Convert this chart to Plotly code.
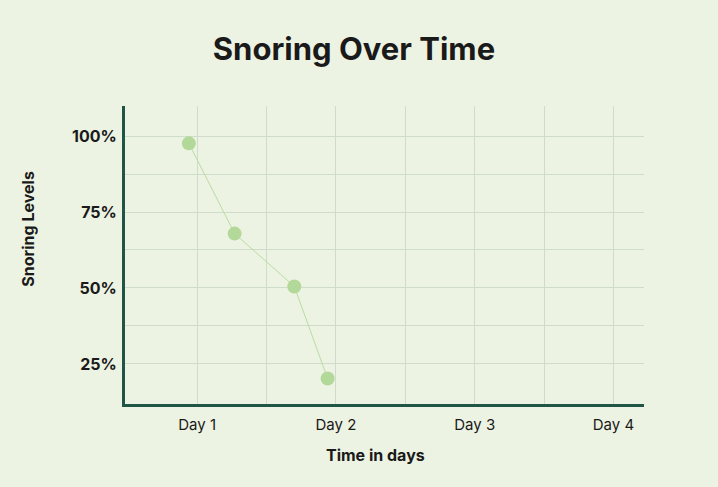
import plotly.graph_objects as go

# データ
days = [0.94, 1.27, 1.70, 1.94]
snoring = [97.6, 67.9, 50.5, 20.2]
x_tickvals = [1, 2, 3, 4]
x_ticktext = ["Day 1", "Day 2", "Day 3", "Day 4"]
y_tickvals = [25, 50, 75, 100]
y_ticktext = ["25%", "50%", "75%", "100%"]

bg = "#edf3e2"
axis_col = "#1f5446"
grid_col = "#d0dccb"
font = "Inter"

fig = go.Figure()

fig.add_trace(go.Scatter(
    x=days,
    y=snoring,
    mode="lines+markers",
    line=dict(color="#b9dca3", width=1),
    marker=dict(color="#b3d99a", size=14),
    showlegend=False,
    hoverinfo="skip",
))

fig.update_layout(
    width=718,
    height=487,
    paper_bgcolor=bg,
    plot_bgcolor=bg,
    margin=dict(l=125, r=74, t=106, b=83),
    font=dict(family=font, color="#1a1a1a"),
    title=dict(
        text="<b>Snoring Over Time</b>",
        x=0.493,
        xanchor="center",
        y=0.9,
        yanchor="middle",
        font=dict(family=font, size=31, color="#1a1a1a"),
    ),
    xaxis=dict(
        range=[0.48, 4.22],
        tickvals=x_tickvals,
        ticktext=x_ticktext,
        tickfont=dict(size=15, color="#1a1a1a"),
        ticklabelstandoff=5,
        showline=True,
        linecolor=axis_col,
        linewidth=3,
        showgrid=True,
        gridcolor=grid_col,
        gridwidth=1,
        minor=dict(tickvals=[1.5, 2.5, 3.5], showgrid=True, gridcolor=grid_col, gridwidth=1),
        zeroline=False,
        ticks="",
        fixedrange=True,
    ),
    yaxis=dict(
        range=[11.8, 109.9],
        tickvals=y_tickvals,
        ticktext=["<b>%s</b>" % t for t in y_ticktext],
        tickfont=dict(size=16, color="#1a1a1a"),
        ticklabelstandoff=2,
        showline=True,
        linecolor=axis_col,
        linewidth=3,
        showgrid=True,
        gridcolor=grid_col,
        gridwidth=1,
        minor=dict(tickvals=[37.5, 62.5, 87.5], showgrid=True, gridcolor=grid_col, gridwidth=1),
        zeroline=False,
        ticks="",
        fixedrange=True,
    ),
    annotations=[
        dict(
            text="<b>Snoring Levels</b>",
            xref="paper", yref="paper",
            x=-0.186, y=0.59,
            xanchor="center", yanchor="middle",
            textangle=-90,
            showarrow=False,
            font=dict(family=font, size=16, color="#1a1a1a"),
        ),
        dict(
            text="<b>Time in days</b>",
            xref="paper", yref="paper",
            x=0.482, y=-0.17,
            xanchor="center", yanchor="middle",
            showarrow=False,
            font=dict(family=font, size=16, color="#1a1a1a"),
        ),
    ],
)

fig.write_html(
    "out.html",
    config={"displayModeBar": False},
    post_script="document.body.style.margin='0';",
)
